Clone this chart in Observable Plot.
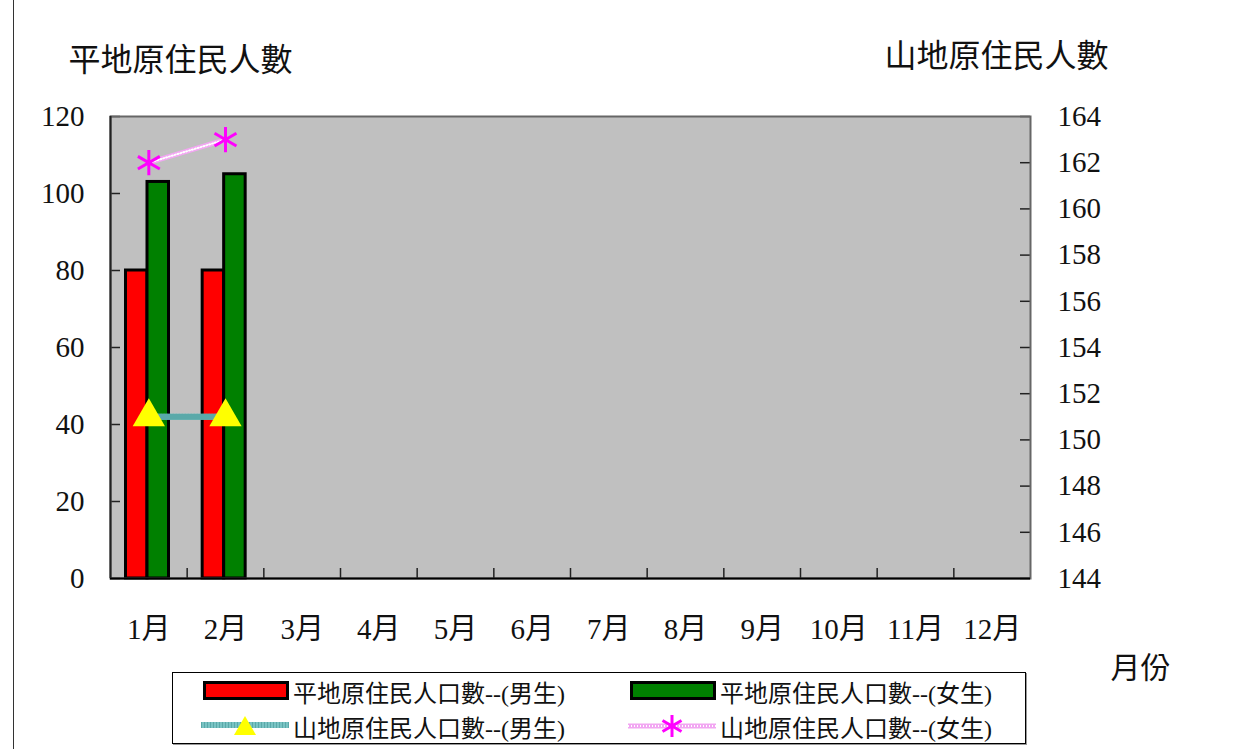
<!DOCTYPE html>
<html>
<head>
<meta charset="utf-8">
<script src="https://cdn.jsdelivr.net/npm/d3@7"></script>
<script src="https://cdn.jsdelivr.net/npm/@observablehq/plot@0.6"></script>
<style>
  html, body { margin: 0; padding: 0; background: #fff; }
  body { width: 1257px; height: 749px; position: relative; overflow: hidden;
         font-family: "Liberation Serif", "Noto Sans CJK TC", serif; }
  #frameLine { position: absolute; left: 13px; top: 0; width: 1px; height: 749px; background: #333; }
  #chart { position: absolute; left: 0; top: 0; }
  #legend { position: absolute; left: 172px; top: 672px; width: 852px; height: 70px;
            border: 1px solid #000; box-shadow: 1px 1px 0 #999; background: #fff; }
  .item { position: absolute; display: flex; align-items: center; font-size: 24px; color: #111; white-space: nowrap; }
  .item svg { margin-right: 4px; }
</style>
</head>
<body>
<div id="frameLine"></div>
<div id="chart"></div>
<div id="legend"></div>
<script>
// ---- data ----
const months = ["1月","2月","3月","4月","5月","6月","7月","8月","9月","10月","11月","12月"];
const recordedMonths = ["1月","2月"];
const plainMale = [80, 80];        // 平地原住民人口數--(男生)  left axis
const plainFemale = [103, 105];    // 平地原住民人口數--(女生)  left axis
const mountainMale = [151, 151];   // 山地原住民人口數--(男生)  right axis
const mountainFemale = [162, 163]; // 山地原住民人口數--(女生)  right axis
const leftTicks = [0, 20, 40, 60, 80, 100, 120];
const rightTicks = [144, 146, 148, 150, 152, 154, 156, 158, 160, 162, 164];
const seriesNames = ["平地原住民人口數--(男生)", "平地原住民人口數--(女生)", "山地原住民人口數--(男生)", "山地原住民人口數--(女生)"];
const colors = { plainMale: "#ff0000", plainFemale: "#008000", mountainMale: "#79c3c3", mountainFemale: "#f2a6f2", triangle: "#ffff00", star: "#ff00ff" };

// ---- derived ----
const leftMax = leftTicks[leftTicks.length - 1];
const rMin = rightTicks[0], rMax = rightTicks[rightTicks.length - 1];
const toLeft = v => (v - rMin) / (rMax - rMin) * leftMax;
const fromLeft = v => rMin + v / leftMax * (rMax - rMin);

const rows = recordedMonths.map((m, i) => ({
  month: m, plainMale: plainMale[i], plainFemale: plainFemale[i],
  mountainMale: mountainMale[i], mountainFemale: mountainFemale[i]
}));

const W = 1257, H = 749;
const mL = 110, mR = 227, mT = 116, mB = 171;
const bw = (W - mL - mR) / months.length;
const font = "'Liberation Serif', 'Noto Sans CJK TC', serif";

const chart = Plot.plot({
  width: W, height: H,
  marginLeft: mL, marginRight: mR, marginTop: mT, marginBottom: mB,
  style: { fontFamily: font, fontSize: "29px", color: "#111", background: "transparent" },
  x: { type: "band", domain: months, paddingInner: 0, paddingOuter: 0, round: false },
  y: { domain: [0, leftMax] },
  marks: [
    Plot.frame({ fill: "#c0c0c0", stroke: null }),
    // inward tick marks
    Plot.ruleY(leftTicks, { stroke: "#222", strokeWidth: 1.5, insetRight: W - mL - mR - 10 }),
    Plot.ruleY(rightTicks.map(toLeft), { stroke: "#222", strokeWidth: 1.5, insetLeft: W - mL - mR - 10 }),
    Plot.ruleX(months.slice(0, -1), { x: d => d, dx: bw / 2, stroke: "#222", strokeWidth: 1.5, insetTop: (H - mT - mB) - 10 }),
    // bars
    Plot.barY(rows, { x: "month", y: "plainMale", fill: colors.plainMale, stroke: "#000", strokeWidth: 3, insetLeft: 15.5, insetRight: bw - 37 }),
    Plot.barY(rows, { x: "month", y: "plainFemale", fill: colors.plainFemale, stroke: "#000", strokeWidth: 3, insetLeft: 37, insetRight: bw - 58.5 }),
    // lines on secondary axis
    Plot.line(rows, { x: "month", y: d => toLeft(d.mountainMale), stroke: colors.mountainMale, strokeWidth: 6 }),
    Plot.line(rows, { x: "month", y: d => toLeft(d.mountainMale), stroke: "#5aa9a9", strokeWidth: 6, strokeDasharray: "1,2" }),
    Plot.line(rows, { x: "month", y: d => toLeft(d.mountainFemale), stroke: colors.mountainFemale, strokeWidth: 5 }),
    Plot.line(rows, { x: "month", y: d => toLeft(d.mountainFemale), stroke: "#fff", strokeWidth: 2, strokeDasharray: "1,2" }),
    Plot.dot(rows, { x: "month", y: d => toLeft(d.mountainMale), symbol: "triangle", r: 12, fill: colors.triangle, stroke: null }),
    Plot.dot(rows, { x: "month", y: d => toLeft(d.mountainFemale), symbol: "asterisk", r: 12, stroke: colors.star, strokeWidth: 3 }),
    // frame
    Plot.frame({ stroke: "#666", strokeWidth: 2 }),
    Plot.ruleY([0], { stroke: "#000", strokeWidth: 2 }),
    Plot.ruleX([months[0]], { x: d => d, dx: -bw / 2, stroke: "#222", strokeWidth: 2 }),
    // axes
    Plot.axisY(leftTicks, { anchor: "left", tickSize: 0, tickPadding: 26, label: null, fontSize: 29 }),
    Plot.axisY(rightTicks.map(toLeft), { anchor: "right", tickSize: 0, tickPadding: 27, tickFormat: d => Math.round(fromLeft(d)), label: null, fontSize: 29 }),
    Plot.axisX({ anchor: "bottom", tickSize: 0, tickPadding: 40, label: null, fontSize: 29 }),
    // axis titles
    Plot.text(["平地原住民人數"], { frameAnchor: "top-left", dx: -42, dy: -56, textAnchor: "start", lineAnchor: "middle", fontSize: 32 }),
    Plot.text(["山地原住民人數"], { frameAnchor: "top-right", dx: -146, dy: -60, textAnchor: "start", lineAnchor: "middle", fontSize: 32 }),
    Plot.text(["月份"], { frameAnchor: "bottom-right", dx: 80, dy: 90, textAnchor: "start", lineAnchor: "middle", fontSize: 30 })
  ]
});
document.getElementById("chart").appendChild(chart);

// ---- legend ----
const legend = document.getElementById("legend");
const swatch = (kind) => {
  if (kind === "plainMale" || kind === "plainFemale") {
    return `<svg width="86" height="20"><rect x="1.5" y="1.5" width="83" height="16" fill="${colors[kind]}" stroke="#000" stroke-width="3"/></svg>`;
  }
  if (kind === "mountainMale") {
    return `<svg width="88" height="24"><line x1="0" y1="11" x2="88" y2="11" stroke="${colors.mountainMale}" stroke-width="6"/><line x1="0" y1="11" x2="88" y2="11" stroke="#5aa9a9" stroke-width="6" stroke-dasharray="1,2"/><path d="M44,2 L55,21 L33,21 Z" fill="${colors.triangle}"/></svg>`;
  }
  return `<svg width="88" height="24"><line x1="0" y1="12" x2="88" y2="12" stroke="${colors.mountainFemale}" stroke-width="5"/><line x1="0" y1="12" x2="88" y2="12" stroke="#fff" stroke-width="2" stroke-dasharray="1,2"/><g stroke="${colors.star}" stroke-width="3"><line x1="44" y1="1" x2="44" y2="23"/><line x1="34.5" y1="6.5" x2="53.5" y2="17.5"/><line x1="34.5" y1="17.5" x2="53.5" y2="6.5"/></g></svg>`;
};
const keys = ["plainMale", "plainFemale", "mountainMale", "mountainFemale"];
const pos = [[30, 18], [457, 18], [28, 53], [455, 53]];
keys.forEach((k, i) => {
  const d = document.createElement("div");
  d.className = "item";
  d.style.left = pos[i][0] + "px";
  d.style.top = (pos[i][1] - 16) + "px";
  d.style.height = "32px";
  d.innerHTML = swatch(k) + `<span>${seriesNames[i]}</span>`;
  legend.appendChild(d);
});
</script>
</body>
</html>
